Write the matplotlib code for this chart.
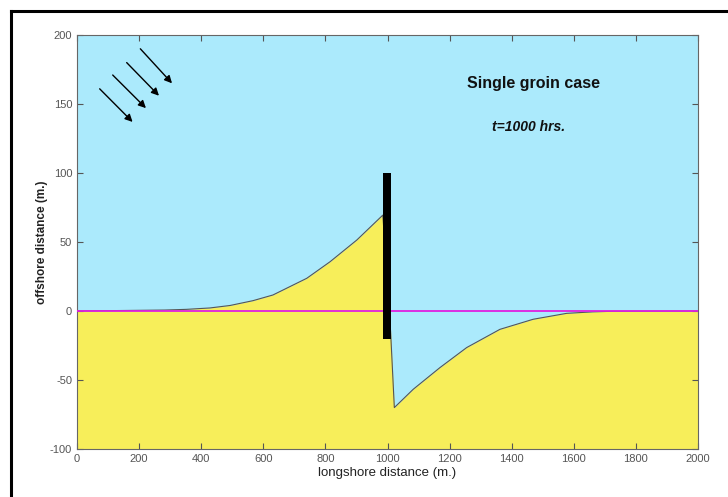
import matplotlib
matplotlib.use('Agg')
import matplotlib.pyplot as plt
from matplotlib.lines import Line2D
import numpy as np

# shoreline position (m.)
shore_x = [0, 283, 353, 428, 493, 567, 631, 740, 815, 901, 985,
           1010, 1022, 1083, 1169, 1255, 1362, 1469, 1577, 1662, 1726, 2000]
shore_y = [0, 0.7, 1.2, 2.2, 4.0, 7.5, 11.6, 23.7, 35.7, 51.4, 69.5,
           -15, -70, -56.7, -41, -26.5, -13.3, -6.0, -1.7, -0.6, -0.2, 0]

# groin: x extent and y extent
groin_x = [985, 1010]
groin_y = [-20, 100]

# wave arrows: start and end points
arrow_start = [(204, 190), (160, 180), (115, 171), (73, 161)]
arrow_end = [(306, 165), (264, 156), (222, 147), (179, 137)]

xticks = [0, 200, 400, 600, 800, 1000, 1200, 1400, 1600, 1800, 2000]
yticks = [-100, -50, 0, 50, 100, 150, 200]

sea = '#abeafc'
sand = '#f7ee5a'

plt.rcParams['font.family'] = ['Liberation Sans', 'DejaVu Sans']
plt.rcParams['axes.unicode_minus'] = False

fig = plt.figure(figsize=(7.28, 4.97), dpi=100)
ax = fig.add_axes([77 / 728, 1 - 449 / 497, 621 / 728, 414 / 497])
ax.set_facecolor(sea)

ax.fill_between(shore_x, shore_y, -100, color=sand, lw=0, zorder=1)
ax.plot(shore_x, shore_y, color='#555555', lw=0.8, zorder=2)
ax.axhline(0, color='#e020e0', lw=1.3, zorder=3)
ax.fill_between(groin_x, groin_y[0], groin_y[1], color='black', lw=0, zorder=4)

for (x0, y0), (x1, y1) in zip(arrow_start, arrow_end):
    ax.annotate('', xy=(x1, y1), xytext=(x0, y0),
                arrowprops=dict(arrowstyle='-|>', color='black', lw=1.0,
                                mutation_scale=11, shrinkA=0, shrinkB=0),
                zorder=5)

ax.text(1470, 165, 'Single groin case', ha='center', va='center',
        fontsize=11.5, fontweight='bold', color='#111111')
ax.text(1455, 133.5, 't=1000 hrs.', ha='center', va='center',
        fontsize=10, fontweight='bold', style='italic', color='#111111')

ax.set_xlim(0, 2000)
ax.set_ylim(-100, 200)
ax.set_xticks(xticks)
ax.set_yticks(yticks)
ax.tick_params(direction='in', length=4, top=True, right=True,
               labelsize=8, labelcolor='#555555', color='#555555')
for lab in ax.get_xticklabels() + ax.get_yticklabels():
    lab.set_family(['Liberation Sans Narrow', 'Liberation Sans'])
for s in ax.spines.values():
    s.set_color('#666666')
    s.set_linewidth(0.8)

ax.set_xlabel('longshore distance (m.)', fontsize=9.5, labelpad=2, color='#222222')
ax.set_ylabel('offshore distance (m.)', fontsize=8.5, fontweight='bold',
              labelpad=1, color='#222222')

# black frame, top and left edges visible
fig.add_artist(Line2D([10.5 / 728, 1], [1 - 10.5 / 497, 1 - 10.5 / 497],
                      color='black', lw=2.2, transform=fig.transFigure))
fig.add_artist(Line2D([10.5 / 728, 10.5 / 728], [0, 1 - 10.5 / 497],
                      color='black', lw=2.2, transform=fig.transFigure))

fig.savefig('out.png', dpi=100)
